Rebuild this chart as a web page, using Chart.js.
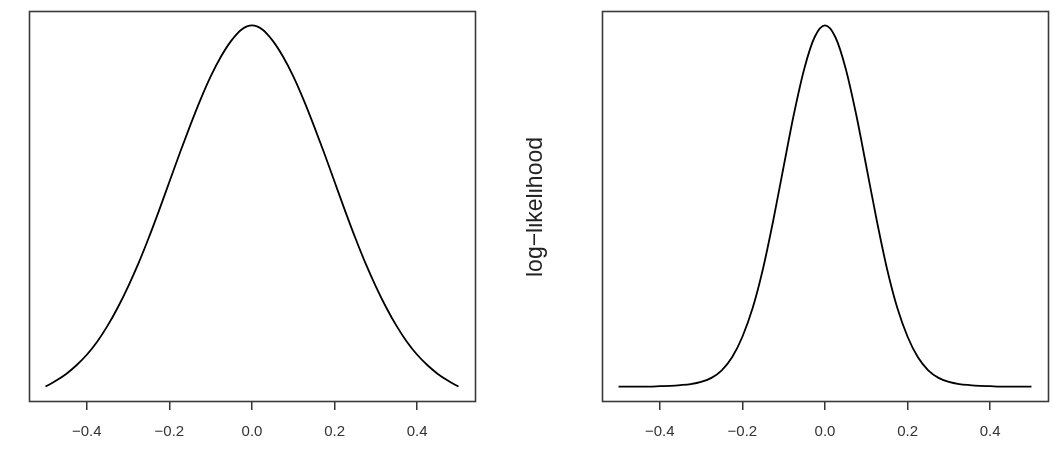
<!DOCTYPE html>
<html>
<head>
<meta charset="utf-8">
<script src="https://cdn.jsdelivr.net/npm/chart.js@4/dist/chart.umd.min.js"></script>
<style>
  html, body { margin: 0; padding: 0; background: #fff; }
  #wrap { position: relative; width: 1053px; height: 451px; }
  .pane { position: absolute; top: 0; height: 451px; }
</style>
</head>
<body>
<div id="wrap">
  <div class="pane" style="left:0;width:526px"><canvas id="c1"></canvas></div>
  <div class="pane" style="left:526px;width:527px"><canvas id="c2"></canvas></div>
</div>
<script>
// parameter values (x axis)
const thetaValues = [-0.5, -0.475, -0.45, -0.425, -0.4, -0.375, -0.35, -0.325, -0.3, -0.275, -0.25,
  -0.225, -0.2, -0.175, -0.15, -0.125, -0.1, -0.075, -0.05, -0.025, 0,
  0.025, 0.05, 0.075, 0.1, 0.125, 0.15, 0.175, 0.2, 0.225, 0.25,
  0.275, 0.3, 0.325, 0.35, 0.375, 0.4, 0.425, 0.45, 0.475, 0.5];

// left panel curve (wide)
const leftCurve = [0.000, 0.016, 0.035, 0.059, 0.088, 0.124, 0.168, 0.219, 0.277, 0.341, 0.412,
  0.488, 0.567, 0.646, 0.722, 0.794, 0.859, 0.914, 0.958, 0.989, 1.000,
  0.989, 0.958, 0.914, 0.859, 0.794, 0.722, 0.646, 0.567, 0.488, 0.412,
  0.341, 0.277, 0.219, 0.168, 0.124, 0.088, 0.059, 0.035, 0.016, 0.000];

// right panel curve (narrow)
const rightCurve = [0.000, 0.000, 0.000, 0.000, 0.001, 0.002, 0.004, 0.007, 0.013, 0.024, 0.045,
  0.081, 0.138, 0.218, 0.327, 0.462, 0.610, 0.756, 0.881, 0.968, 1.000,
  0.968, 0.881, 0.756, 0.610, 0.462, 0.327, 0.218, 0.138, 0.081, 0.045,
  0.024, 0.013, 0.007, 0.004, 0.002, 0.001, 0.000, 0.000, 0.000, 0.000];

// tick labels on the x axis
const xTicks = [-0.4, -0.2, 0.0, 0.2, 0.4];
const xTickLabels = ['\u22120.4', '\u22120.2', '0.0', '0.2', '0.4'];
const yLabel = 'log\u2212likelihood';

const FONT = '"Liberation Sans", Arial, Helvetica, sans-serif';

const boxPlugin = {
  id: 'box',
  afterDraw(chart) {
    const a = chart.chartArea, ctx = chart.ctx;
    ctx.save();
    ctx.strokeStyle = '#3a3a3a';
    ctx.lineWidth = 1.6;
    ctx.strokeRect(Math.round(a.left) + 0.5, Math.round(a.top) + 0.5,
      Math.round(a.right - a.left), Math.round(a.bottom - a.top));
    ctx.restore();
  }
};

const ylabPlugin = {
  id: 'ylab',
  afterDraw(chart, args, opts) {
    if (!opts.text) return;
    const ctx = chart.ctx;
    ctx.save();
    ctx.translate(opts.x, opts.y);
    ctx.rotate(-Math.PI / 2);
    ctx.fillStyle = '#222';
    ctx.font = opts.size + 'px ' + FONT;
    ctx.textAlign = 'center';
    ctx.textBaseline = 'middle';
    ctx.fillText(opts.text, 0, 0);
    ctx.restore();
  }
};

function makeChart(id, values, padLeft, padRight, ylab) {
  const pts = thetaValues.map((x, i) => ({ x: x, y: values[i] }));
  return new Chart(document.getElementById(id), {
    type: 'line',
    data: {
      datasets: [{
        data: pts,
        borderColor: '#000',
        borderWidth: 1.8,
        pointRadius: 0,
        fill: false,
        cubicInterpolationMode: 'monotone'
      }]
    },
    options: {
      responsive: true,
      maintainAspectRatio: false,
      animation: false,
      events: [],
      layout: { padding: { left: padLeft, right: padRight, top: 11, bottom: 0 } },
      plugins: {
        legend: { display: false },
        tooltip: { enabled: false },
        ylab: ylab
      },
      scales: {
        x: {
          type: 'linear',
          min: -0.54,
          max: 0.54,
          afterBuildTicks(scale) { scale.ticks = xTicks.map(v => ({ value: v })); },
          afterFit(scale) { scale.height = 50; },
          ticks: {
            autoSkip: false,
            maxRotation: 0,
            padding: 13,
            color: '#333',
            font: { family: FONT, size: 15 },
            callback(value) {
              const i = xTicks.findIndex(t => Math.abs(t - value) < 1e-9);
              return i >= 0 ? xTickLabels[i] : '';
            }
          },
          grid: {
            display: true,
            drawOnChartArea: false,
            drawTicks: true,
            tickLength: 9,
            color: '#333',
            lineWidth: 1.5
          },
          border: { display: false }
        },
        y: {
          display: false,
          min: -0.04,
          max: 1.04
        }
      }
    },
    plugins: [boxPlugin, ylabPlugin]
  });
}

makeChart('c1', leftCurve, 29, 51, { text: '' });
makeChart('c2', rightCurve, 76, 5, { text: yLabel, x: 10, y: 207, size: 23 });
</script>
</body>
</html>
